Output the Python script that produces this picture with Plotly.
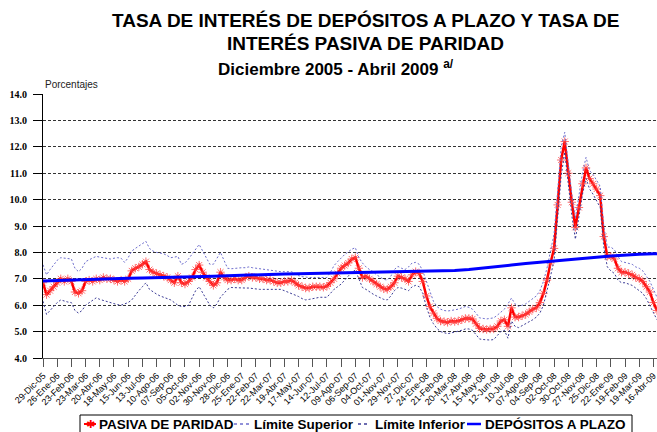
import pandas as pd
import plotly.graph_objects as go

# Weekly series, 29-Dic-2005 .. 23-Abr-2009 (percent)
pasiva = [
    6.85, 6.40, 6.55, 6.70, 6.85, 7.00, 6.90, 7.00, 6.90, 6.50,
    6.45, 6.55, 6.90, 6.95, 6.90, 7.00, 6.95, 7.05, 7.00, 7.00,
    6.95, 6.90, 6.95, 6.90, 7.00, 7.30, 7.40, 7.45, 7.55, 7.65,
    7.35, 7.25, 7.20, 7.15, 7.10, 7.05, 6.95, 6.85, 7.10, 6.85,
    6.80, 6.90, 7.05, 7.35, 7.52, 7.25, 7.05, 6.90, 6.75, 6.85,
    7.25, 7.05, 6.95, 6.95, 7.00, 6.95, 6.95, 7.05, 7.10, 7.05,
    7.05, 7.00, 7.00, 6.95, 6.95, 6.90, 6.85, 6.85, 6.90, 6.90,
    6.95, 6.85, 6.75, 6.70, 6.65, 6.65, 6.70, 6.70, 6.70, 6.68,
    6.72, 6.85, 7.00, 7.20, 7.40, 7.50, 7.60, 7.75, 7.80, 7.40,
    7.05, 7.10, 7.00, 6.90, 6.80, 6.70, 6.62, 6.60, 6.70, 6.85,
    7.10, 7.05, 7.00, 6.90, 7.15, 7.27, 7.20, 6.90, 6.35, 5.95,
    5.70, 5.50, 5.40, 5.38, 5.35, 5.40, 5.38, 5.40, 5.45, 5.50,
    5.50, 5.48, 5.30, 5.12, 5.10, 5.08, 5.10, 5.10, 5.20, 5.40,
    5.45, 5.20, 5.90, 5.55, 5.55, 5.60, 5.65, 5.75, 5.85, 5.90,
    6.10, 6.45, 6.95, 7.60, 8.15, 9.80, 11.50, 12.20, 11.00, 9.90,
    8.95, 9.70, 10.60, 11.20, 10.80, 10.60, 10.40, 10.15, 8.60, 7.85,
    7.85, 7.75, 7.40, 7.25, 7.25, 7.20, 7.15, 7.05, 7.00, 6.90,
    6.70, 6.50, 6.10, 5.80,
]

limite_superior = [
    7.53, 7.15, 7.35, 7.55, 7.70, 7.80, 7.78, 7.78, 7.75, 7.40,
    7.27, 7.40, 7.65, 7.72, 7.78, 7.85, 7.82, 7.80, 7.78, 7.75,
    7.78, 7.80, 7.78, 7.62, 7.80, 8.05, 8.15, 8.25, 8.35, 8.42,
    8.15, 8.05, 8.00, 7.97, 7.95, 7.88, 7.80, 7.82, 7.85, 7.55,
    7.60, 7.75, 7.95, 8.15, 8.30, 8.05, 7.80, 7.55, 7.55, 7.80,
    8.00, 7.70, 7.40, 7.38, 7.40, 7.42, 7.42, 7.42, 7.45, 7.42,
    7.40, 7.38, 7.36, 7.34, 7.32, 7.30, 7.28, 7.27, 7.27, 7.27,
    7.27, 7.20, 7.12, 7.08, 7.06, 7.05, 7.05, 7.05, 7.05, 7.05,
    7.05, 7.25, 7.50, 7.65, 7.80, 7.92, 8.02, 8.12, 8.18, 7.80,
    7.60, 7.45, 7.35, 7.27, 7.15, 7.05, 6.98, 6.95, 7.10, 7.35,
    7.47, 7.40, 7.35, 7.45, 7.60, 7.62, 7.55, 7.30, 6.90, 6.50,
    6.15, 5.95, 5.85, 5.80, 5.78, 5.80, 5.82, 5.85, 5.90, 5.95,
    5.92, 5.85, 5.70, 5.52, 5.50, 5.48, 5.50, 5.52, 5.62, 5.75,
    5.85, 6.05, 6.27, 6.05, 5.95, 6.00, 6.05, 6.15, 6.25, 6.35,
    6.55, 6.90, 7.40, 8.00, 8.70, 10.30, 12.00, 12.55, 11.40, 10.20,
    9.30, 10.10, 11.00, 11.60, 11.10, 10.95, 10.75, 10.50, 9.00, 8.20,
    8.20, 8.10, 7.85, 7.65, 7.62, 7.58, 7.55, 7.45, 7.40, 7.30,
    7.10, 6.90, 6.60, 6.30,
]

limite_inferior = [
    6.15, 5.65, 5.80, 5.95, 6.10, 6.20, 6.15, 6.12, 6.10, 5.80,
    5.70, 5.80, 6.00, 6.10, 6.20, 6.28, 6.22, 6.18, 6.12, 6.10,
    6.05, 6.02, 6.00, 6.05, 6.10, 6.20, 6.40, 6.55, 6.70, 6.85,
    6.60, 6.50, 6.42, 6.35, 6.30, 6.25, 6.20, 6.10, 6.00, 5.95,
    5.95, 6.00, 6.25, 6.55, 6.70, 6.45, 6.20, 6.00, 5.90, 6.05,
    6.30, 6.45, 6.60, 6.67, 6.66, 6.65, 6.65, 6.65, 6.65, 6.63,
    6.62, 6.60, 6.60, 6.60, 6.60, 6.60, 6.60, 6.60, 6.55, 6.50,
    6.45, 6.40, 6.33, 6.25, 6.20, 6.22, 6.25, 6.28, 6.30, 6.30,
    6.30, 6.45, 6.60, 6.70, 6.80, 6.95, 7.10, 7.25, 7.33, 7.00,
    6.67, 6.60, 6.50, 6.42, 6.35, 6.28, 6.22, 6.20, 6.35, 6.55,
    6.67, 6.65, 6.60, 6.55, 6.70, 6.75, 6.70, 6.45, 5.95, 5.55,
    5.30, 5.12, 5.00, 4.95, 4.92, 4.95, 4.98, 5.00, 5.05, 5.10,
    5.10, 5.05, 4.90, 4.72, 4.70, 4.68, 4.68, 4.70, 4.85, 5.00,
    5.05, 4.75, 5.40, 5.20, 5.15, 5.22, 5.30, 5.38, 5.45, 5.55,
    5.70, 6.00, 6.50, 7.10, 7.70, 9.20, 10.90, 11.80, 10.60, 9.40,
    8.50, 9.30, 10.20, 10.80, 10.40, 10.20, 9.95, 9.70, 8.20, 7.45,
    7.30, 7.20, 6.95, 6.85, 6.85, 6.80, 6.75, 6.65, 6.55, 6.45,
    6.25, 6.00, 5.70, 5.45,
]

# Time-deposit rate, read every four weeks (plus the final week)
depositos_semana = [0, 4, 8, 12, 16, 20, 24, 28, 32, 36, 40, 44, 48, 52, 56,
                    60, 64, 68, 72, 76, 80, 84, 88, 92, 96, 100, 104, 108, 112,
                    116, 120, 124, 128, 132, 136, 140, 144, 148, 152, 156, 160,
                    164, 168, 172, 173]
depositos = [6.92, 6.94, 6.96, 6.98, 7.00, 7.01, 7.02, 7.03, 7.04, 7.06, 7.07,
             7.08, 7.10, 7.12, 7.14, 7.15, 7.17, 7.18, 7.19, 7.20, 7.21, 7.22,
             7.23, 7.24, 7.25, 7.26, 7.27, 7.28, 7.29, 7.31, 7.35, 7.40, 7.46,
             7.52, 7.58, 7.63, 7.69, 7.74, 7.78, 7.82, 7.86, 7.90, 7.93, 7.95,
             7.95]

tick_labels = [
    "29-Dic-05", "26-Ene-06", "23-Feb-06", "23-Mar-06", "20-Abr-06", "18-May-06",
    "15-Jun-06", "13-Jul-06", "10-Ago-06", "07-Sep-06", "05-Oct-06", "02-Nov-06",
    "30-Nov-06", "28-Dic-06", "25-Ene-07", "22-Feb-07", "22-Mar-07", "19-Abr-07",
    "17-May-07", "14-Jun-07", "12-Jul-07", "09-Ago-07", "06-Sep-07", "04-Oct-07",
    "01-Nov-07", "29-Nov-07", "27-Dic-07", "24-Ene-08", "21-Feb-08", "20-Mar-08",
    "17-Abr-08", "15-May-08", "12-Jun-08", "10-Jul-08", "07-Ago-08", "04-Sep-08",
    "02-Oct-08", "30-Oct-08", "27-Nov-08", "25-Dic-08", "22-Ene-09", "19-Feb-09",
    "19-Mar-09", "16-Abr-09",
]

series_names = ["PASIVA DE PARIDAD", "Límite Superior", "Límite Inferior",
                "DEPÓSITOS A PLAZO"]

RED, SUP, INF, BLUE = "#FF0000", "rgb(110,110,205)", "rgb(60,60,150)", "#0000FF"
STAR = "rgba(255,60,60,0.75)"

fechas = pd.date_range("2005-12-29", periods=len(pasiva), freq="7D")
fechas_dep = [fechas[i] for i in depositos_semana]

fig = go.Figure()
fig.add_trace(go.Scatter(
    x=fechas, y=pasiva, name=series_names[0], mode="lines+markers",
    line=dict(color=RED, width=2.5),
    marker=dict(symbol="asterisk-open", size=7, color=STAR,
                line=dict(color=STAR, width=1)),
))
fig.add_trace(go.Scatter(
    x=fechas, y=limite_superior, name=series_names[1], mode="lines",
    line=dict(color=SUP, width=1, dash="2px,2px"),
))
fig.add_trace(go.Scatter(
    x=fechas, y=limite_inferior, name=series_names[2], mode="lines",
    line=dict(color=INF, width=1, dash="2px,2px"),
))
fig.add_trace(go.Scatter(
    x=fechas_dep, y=depositos, name=series_names[3], mode="lines",
    line=dict(color=BLUE, width=3),
))

W, H = 657, 432
L, R, T, B = 43, 0, 94, 74
pw, ph = W - L - R, H - T - B


def px_x(x):
    return (x - L) / pw


def px_y(y):
    return (H - B - y) / ph


title_font = dict(family="Arial, Liberation Sans", size=19, color="black")
for txt, cx, cy, fnt in [
    ("<b>TASA DE INTERÉS DE DEPÓSITOS A PLAZO Y TASA DE</b>", 365, 20, title_font),
    ("<b>INTERÉS PASIVA DE PARIDAD</b>", 365, 44, title_font),
    ("<b>Diciembre 2005 - Abril 2009 <sup>a/</sup></b>", 336, 68,
     dict(family="Arial, Liberation Sans", size=17, color="black")),
]:
    fig.add_annotation(text=txt, x=px_x(cx), y=px_y(cy), xref="paper", yref="paper",
                       xanchor="center", yanchor="middle", showarrow=False, font=fnt)

fig.add_annotation(text="Porcentajes", x=px_x(43), y=px_y(84), xref="paper", yref="paper",
                   xanchor="left", yanchor="middle", showarrow=False,
                   font=dict(family="Arial, Liberation Sans", size=10, color="#222"))

# Legend box drawn below the axis: frame, sample strokes and labels
legend_font = dict(family="Arial, Liberation Sans", size=13.5, color="black")
fig.add_shape(type="rect", xref="paper", yref="paper",
              x0=px_x(80), x1=px_x(632), y0=px_y(415), y1=px_y(445),
              line=dict(color="black", width=1), fillcolor="white", layer="above")
ly = px_y(424)
legend_items = [
    # (stroke x0, stroke x1, colour, width, dash, label x)
    (84, 96, RED, 2, "solid", 97),
    (234, 249, SUP, 1.5, "dot", 252),
    (358, 370, INF, 1.5, "dot", 373),
    (467, 481, BLUE, 2.5, "solid", 483),
]
for (x0, x1, col, wd, dash, tx), name in zip(legend_items, series_names):
    fig.add_shape(type="line", xref="paper", yref="paper",
                  x0=px_x(x0), x1=px_x(x1), y0=ly, y1=ly,
                  line=dict(color=col, width=wd, dash=dash), layer="above")
    fig.add_annotation(text="<b>" + name + "</b>", x=px_x(tx), y=ly, xref="paper",
                       yref="paper", xanchor="left", yanchor="middle",
                       showarrow=False, font=legend_font)
fig.add_annotation(text="✱", x=px_x(90), y=ly, xref="paper", yref="paper",
                   xanchor="center", yanchor="middle", showarrow=False,
                   font=dict(family="DejaVu Sans", size=11, color=RED))

fig.update_layout(
    width=W, height=H,
    margin=dict(l=L, r=R, t=T, b=B, autoexpand=False),
    plot_bgcolor="white", paper_bgcolor="white",
    showlegend=False,
    xaxis=dict(
        range=[fechas[0], fechas[-1]],
        tickvals=list(fechas[::4]), ticktext=tick_labels,
        tickangle=-45, ticks="outside", ticklen=8, tickcolor="#555",
        showline=True, linecolor="#555", linewidth=1,
        showgrid=False, zeroline=False, ticklabeloverflow="allow",
        tickfont=dict(family="Arial, Liberation Sans", size=9, color="black"),
    ),
    yaxis=dict(
        range=[4, 14], dtick=1, tickformat=".1f",
        ticks="outside", ticklen=9, tickcolor="black",
        showline=True, linecolor="black", linewidth=1,
        showgrid=True, gridcolor="#333", gridwidth=1, griddash="3px,2px",
        zeroline=False, ticklabelstandoff=4,
        tickfont=dict(family="Liberation Serif, Times New Roman", size=10, color="black",
                      weight="bold"),
    ),
)

fig.write_html("out.html")
